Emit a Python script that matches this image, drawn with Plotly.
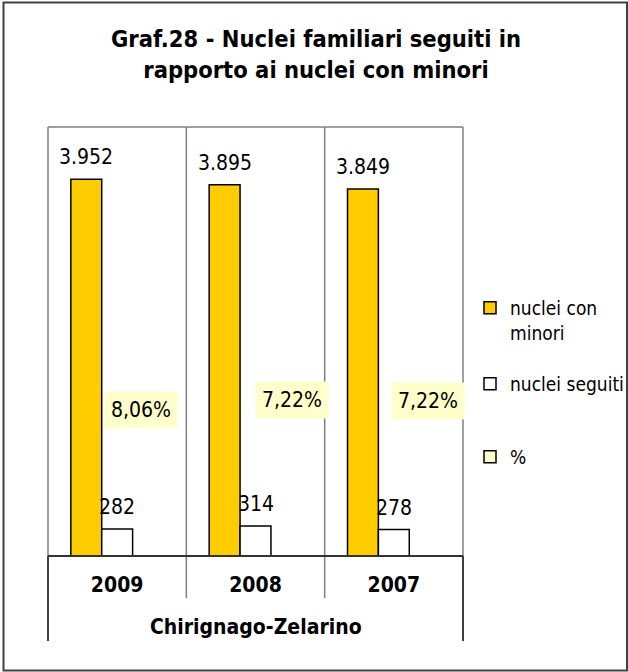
import plotly.graph_objects as go

# ---------------- data ----------------
years = ["2009", "2008", "2007"]
group_label = "Chirignago-Zelarino"
nuclei_con_minori = [3952, 3895, 3849]
nuclei_seguiti = [282, 314, 278]
percentuali = [0.0806, 0.0722, 0.0722]
series_names = ["nuclei con<br>minori", "nuclei seguiti", "%"]
title_text = "Graf.28 - Nuclei familiari seguiti in<br>rapporto ai nuclei con minori"

# ---------------- layout geometry (pixels) ----------------
W, H = 628, 672
L, R, T, B = 48, 463, 127, 556
PW, PH = R - L, B - T
Y_MAX = 4500


def px(x):
    return (x - L) / PW


def py(y):
    return (B - y) / PH


def it_num(v):
    return f"{v:,}".replace(",", ".")


def it_pct(v):
    return f"{v * 100:.2f}".replace(".", ",") + "%"


FONT = "DejaVu Sans Condensed, Liberation Sans, Arial, sans-serif"
BARGAP = 0.33
cat_px = PW / len(years)
bar_w_px = (1 - BARGAP) / 3 * cat_px

label_font = dict(family=FONT, size=21, color="black")
legend_font = dict(family=FONT, size=19, color="black")
bold_font = dict(family=FONT, size=21, color="black", weight="bold")

fig = go.Figure()
fig.add_trace(go.Bar(
    x=years, y=nuclei_con_minori, name=series_names[0], legend="legend",
    marker=dict(color="#FFCC00", line=dict(color="black", width=1.5)),
))
fig.add_trace(go.Bar(
    x=years, y=nuclei_seguiti, name=series_names[1], legend="legend2",
    marker=dict(color="#FFFFFF", line=dict(color="black", width=1.5)),
))
fig.add_trace(go.Bar(
    x=years, y=percentuali, name=series_names[2], legend="legend3",
    marker=dict(color="#FFFFCC", line=dict(color="black", width=1.5)),
))

annotations = []
label_yshift = 8
for i in range(len(years)):
    annotations.append(dict(
        x=i, y=nuclei_con_minori[i], xref="x", yref="y",
        text=it_num(nuclei_con_minori[i]), showarrow=False,
        xanchor="center", yanchor="bottom", xshift=-bar_w_px, yshift=label_yshift,
        font=label_font))
    annotations.append(dict(
        x=i, y=nuclei_seguiti[i], xref="x", yref="y",
        text=it_num(nuclei_seguiti[i]), showarrow=False,
        xanchor="center", yanchor="bottom", xshift=0, yshift=label_yshift,
        font=label_font))

pct_label_dx = [-7, 6, 3]
pct_label_ypx = [410, 400, 401]
for i in range(len(years)):
    annotations.append(dict(
        x=i, y=py(pct_label_ypx[i]), xref="x", yref="paper",
        text=it_pct(percentuali[i]), showarrow=False,
        xanchor="center", yanchor="middle", xshift=bar_w_px + pct_label_dx[i],
        bgcolor="#FFFFCC", borderpad=6, font=label_font))

annotations.append(dict(
    x=0.5, y=py(627), xref="paper", yref="paper", text=group_label,
    showarrow=False, xanchor="center", yanchor="middle", font=bold_font))

GRID = "#808080"
shapes = [
    # plot frame (grey)
    dict(type="line", xref="paper", yref="paper", x0=0, x1=1, y0=1, y1=1,
         line=dict(color=GRID, width=1.5)),
    dict(type="line", xref="paper", yref="paper", x0=0, x1=0, y0=0, y1=1,
         line=dict(color=GRID, width=1.5)),
    dict(type="line", xref="paper", yref="paper", x0=1, x1=1, y0=0, y1=1,
         line=dict(color=GRID, width=1.5)),
    # outer edges below the axis (black)
    dict(type="line", xref="paper", yref="paper", x0=0, x1=0, y0=py(641), y1=0,
         line=dict(color="black", width=1.5)),
    dict(type="line", xref="paper", yref="paper", x0=1, x1=1, y0=py(641), y1=0,
         line=dict(color="black", width=1.5)),
    # axis line
    dict(type="line", xref="paper", yref="paper", x0=0, x1=1, y0=0, y1=0,
         line=dict(color="#333333", width=2)),
    # chart outer border
    dict(type="rect", xref="paper", yref="paper",
         x0=px(3.5), x1=px(627), y0=py(670.5), y1=py(2.5),
         line=dict(color="#404040", width=2), layer="below"),
]
for b in (0.5, 1.5):
    shapes.append(dict(type="line", xref="x", yref="paper", x0=b, x1=b,
                       y0=py(598), y1=1, line=dict(color=GRID, width=1.5),
                       layer="below"))

leg_common = dict(x=px(470), xanchor="left", yanchor="middle", valign="top",
                  bgcolor="rgba(0,0,0,0)", font=legend_font, itemwidth=30)

fig.update_layout(
    width=W, height=H,
    margin=dict(l=L, r=W - R, t=T, b=H - B, pad=0, autoexpand=False),
    paper_bgcolor="white", plot_bgcolor="white",
    separators=",.",
    showlegend=True,
    barmode="group", bargap=BARGAP, bargroupgap=0,
    title=dict(text=title_text, x=316 / W, xanchor="center", xref="container",
               y=1 - 47 / H, yanchor="top", yref="container",
               font=dict(family=FONT, size=23.5, color="black", weight="bold")),
    xaxis=dict(type="category", range=[-0.5, len(years) - 0.5], automargin=False,
               showgrid=False, zeroline=False, showline=False,
               ticks="", tickfont=bold_font, ticklabelstandoff=14),
    yaxis=dict(range=[0, Y_MAX], visible=False, showgrid=False, zeroline=False,
               automargin=False),
    legend=dict(y=py(320.5), **leg_common),
    legend2=dict(y=py(384), **leg_common),
    legend3=dict(y=py(457), **leg_common),
    annotations=annotations,
    shapes=shapes,
)

fig.write_html("out.html",
               config={"displayModeBar": False},
               post_script="document.body.style.margin='0';"
                           "document.body.style.overflow='hidden';")
